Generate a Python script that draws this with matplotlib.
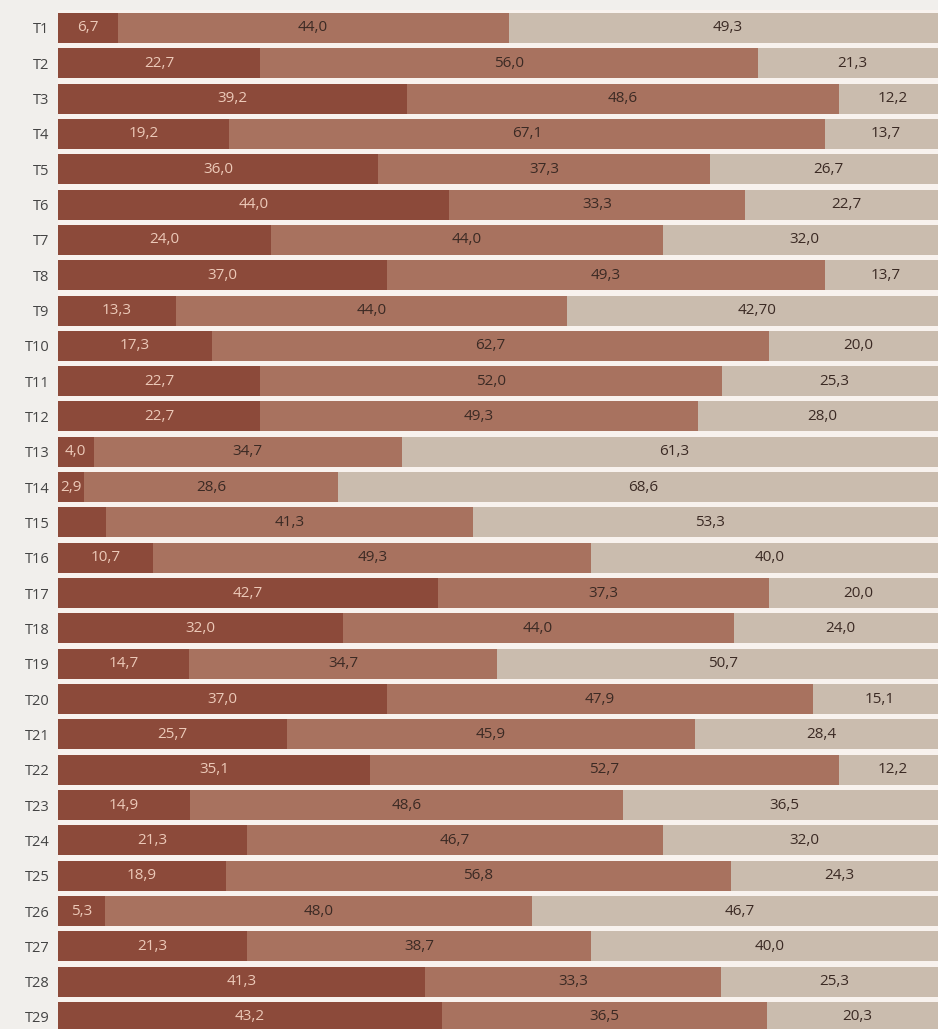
import numpy as np
import matplotlib.pyplot as plt

plt.rcParams['font.family'] = ['Open Sans', 'DejaVu Sans']

rows = ['T%d' % i for i in range(1, 30)]
dark = [6.7, 22.7, 39.2, 19.2, 36.0, 44.0, 24.0, 37.0, 13.3, 17.3, 22.7, 22.7, 4.0, 2.9, 5.4,
        10.7, 42.7, 32.0, 14.7, 37.0, 25.7, 35.1, 14.9, 21.3, 18.9, 5.3, 21.3, 41.3, 43.2]
mid = [44.0, 56.0, 48.6, 67.1, 37.3, 33.3, 44.0, 49.3, 44.0, 62.7, 52.0, 49.3, 34.7, 28.6, 41.3,
       49.3, 37.3, 44.0, 34.7, 47.9, 45.9, 52.7, 48.6, 46.7, 56.8, 48.0, 38.7, 33.3, 36.5]
light = [49.3, 21.3, 12.2, 13.7, 26.7, 22.7, 32.0, 13.7, 42.7, 20.0, 25.3, 28.0, 61.3, 68.6, 53.3,
         40.0, 20.0, 24.0, 50.7, 15.1, 28.4, 12.2, 36.5, 32.0, 24.3, 46.7, 40.0, 25.3, 20.3]

# labels as printed (comma decimals); a few deviate from plain formatting
label_override = {('light', 8): '42,70', ('dark', 14): ''}

colors = {'dark': '#8c4a3a', 'mid': '#a8725f', 'light': '#cabcae'}
text_colors = {'dark': '#ecc9b8', 'mid': '#3b2a24', 'light': '#3b2a24'}


def fmt(v):
    return ('%.1f' % v).replace('.', ',')


fig = plt.figure(figsize=(9.38, 10.29), dpi=100)
fig.patch.set_facecolor('#f1efec')
ax = fig.add_axes([58 / 938, -0.0055, 882 / 938, 1024.4 / 1029])
ax.set_facecolor('#f8f2ee')

y = np.arange(len(rows))
left = np.zeros(len(rows))
for name, vals in [('dark', dark), ('mid', mid), ('light', light)]:
    vals = np.array(vals)
    ax.barh(y, vals, left=left, height=0.85, color=colors[name], linewidth=0)
    for i, (l, v) in enumerate(zip(left, vals)):
        lab = label_override.get((name, i), fmt(v))
        ax.text(l + v / 2, i, lab, ha='center', va='center', fontsize=11,
                color=text_colors[name])
    left = left + vals

ax.set_xlim(0, 99.2)
ax.set_ylim(len(rows) - 0.5, -0.5)
ax.set_yticks(y)
ax.set_yticklabels(rows, fontsize=10.5, color='#444444')
ax.tick_params(axis='y', length=0, pad=6)
ax.set_xticks([])
for s in ax.spines.values():
    s.set_visible(False)

fig.savefig('out.png', dpi=100, facecolor=fig.get_facecolor())
